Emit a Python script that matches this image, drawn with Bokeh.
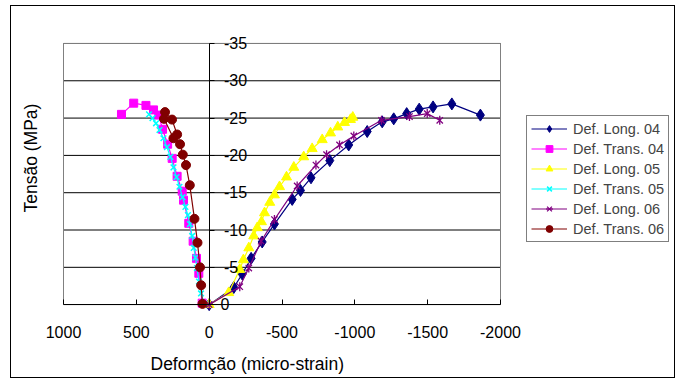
from math import pi
from bokeh.plotting import figure
from bokeh.models import (Range1d, LinearAxis, FixedTicker, Legend, LegendItem,
                          Title)
from bokeh.embed import file_html
from bokeh.resources import INLINE

# ---- data (deformação in micro-strain, tensão in MPa) ----
long04_x = [0, -169, -227, -288, -364, -448, -570, -627, -699, -828, -958,
            -1085, -1188, -1267, -1356, -1442, -1537, -1666, -1862]
long04_y = [0, -2.3, -4.1, -6.2, -8.4, -10.8, -14.1, -15.3, -17.0, -19.3,
            -21.4, -23.2, -24.5, -24.9, -25.6, -26.2, -26.5, -26.9, -25.4]

trans04_x = [48, 71, 87, 110, 140, 176, 185, 220, 254, 285, 320, 346, 382,
             434, 518, 602]
trans04_y = [-0.2, -4.2, -6.2, -8.5, -10.9, -14.0, -15.2, -17.2, -19.6,
             -21.5, -23.5, -25.4, -26.1, -26.7, -27.0, -25.5]

long05_x = [0, -134, -210, -235, -272, -306, -330, -359, -380, -416, -448,
            -483, -531, -581, -649, -707, -776, -833, -883, -929, -970, -986]
long05_y = [0, -1.6, -4.7, -6.0, -7.6, -9.2, -10.3, -11.1, -12.3, -13.7,
            -14.7, -15.8, -17.1, -18.4, -19.8, -20.9, -22.1, -23.0, -23.8,
            -24.4, -24.8, -25.1]

trans05_x = [32, 56, 70, 84, 94, 106, 117, 132, 146, 163, 183, 204, 224, 245,
             266, 290, 314, 341, 365, 389, 413]
trans05_y = [-0.1, -1.5, -3.1, -4.9, -6.3, -7.6, -9.2, -10.8, -12.0, -13.1,
             -14.4, -15.8, -17.1, -18.4, -19.8, -21.1, -22.3, -23.4, -24.3,
             -25.0, -25.5]

long06_x = [0, -210, -272, -357, -448, -604, -733, -806, -895, -993, -1183,
            -1375, -1497, -1583]
long06_y = [0, -2.4, -4.9, -8.5, -11.4, -15.9, -18.7, -20.1, -21.4, -22.6,
            -24.7, -25.2, -25.6, -24.7]

trans06_x = [46, 55, 63, 80, 101, 133, 159, 181, 200, 245, 310, 303, 255, 220]
trans06_y = [-0.1, -2.6, -5.0, -8.3, -11.5, -16.0, -18.7, -20.1, -21.5,
             -22.3, -24.9, -25.8, -24.8, -22.8]

series_names = ["Def. Long. 04", "Def. Trans. 04", "Def. Long. 05",
                "Def. Trans. 05", "Def. Long. 06", "Def. Trans. 06"]
x_ticks = [1000, 500, 0, -500, -1000, -1500, -2000]
y_ticks = [0, -5, -10, -15, -20, -25, -30, -35]
y_tick_labels = ["0\u2007\u2007", "-5\u2007", "-10", "-15", "-20", "-25",
                 "-30", "-35"]

x_title = "Deformção (micro-strain)"
y_title = "Tensão (MPa)"

FONT = "Liberation Sans"

# ---- layout constants (pixels) ----
W, H = 665, 373                    # canvas (inside the 1px CSS border)
B_LEFT, B_RIGHT, B_TOP, B_BOTTOM = 33, 4, 28, 33
PLOT_W_PX, PLOT_H_PX = 437, 262    # visible plot-area box
PAD_L, PAD_T, PAD_B = 19, 9, 41    # frame extends beyond the plot box
frame_w = W - B_LEFT - B_RIGHT
x_lo, x_hi = x_ticks[0], x_ticks[-1]
ux = (x_lo - x_hi) / PLOT_W_PX
uy = (y_ticks[0] - y_ticks[-1]) / PLOT_H_PX
x_start = x_lo + PAD_L * ux
x_end = x_start - frame_w * ux
y_start = y_ticks[0] + PAD_B * uy
y_end = y_ticks[-1] - PAD_T * uy

p = figure(width=W, height=H, output_backend="svg", toolbar_location=None,
           x_range=Range1d(x_start, x_end), y_range=Range1d(y_start, y_end),
           x_axis_location=None, y_axis_location=None,
           min_border_left=B_LEFT, min_border_right=B_RIGHT,
           min_border_top=B_TOP, min_border_bottom=B_BOTTOM)
p.margin = (5, 0, 0, 10)
p.styles = {"border": "1px solid black"}
p.outline_line_color = None
p.background_fill_color = "white"
p.border_fill_color = "white"
for g in p.grid:
    g.visible = False

# horizontal gridlines and plot-area box
n = len(y_ticks) - 1
p.segment(x0=[x_lo] * n, x1=[x_hi] * n, y0=y_ticks[1:], y1=y_ticks[1:],
          line_color="black", line_width=1)
p.quad(left=[x_lo], right=[x_hi], bottom=[y_ticks[0]], top=[y_ticks[-1]],
       fill_color=None, line_color="#808080", line_width=1)

def style_font(ax):
    ax.major_label_text_font = FONT
    ax.major_label_text_font_size = "16px"
    ax.major_label_text_color = "black"

# x axis at y = 0 (ticks up, labels below)
xaxis = LinearAxis(ticker=FixedTicker(ticks=x_ticks), fixed_location=0,
                   bounds=(x_hi, x_lo))
xaxis.major_tick_out = 5
xaxis.major_tick_in = 0
xaxis.minor_tick_out = 0
xaxis.minor_tick_in = 0
xaxis.minor_tick_line_color = None
xaxis.axis_line_color = "black"
xaxis.major_tick_line_color = "black"
xaxis.major_label_standoff = -38
xaxis.major_label_overrides = {t: str(t) for t in x_ticks}
style_font(xaxis)
p.add_layout(xaxis, "above")

# axis titles
xt = Title(text=x_title, align="left", offset=106, standoff=12,
           text_font=FONT, text_font_size="17.5px", text_font_style="normal",
           text_color="black")
p.add_layout(xt, "below")

yt = Title(text=y_title, align="left", offset=133, standoff=8,
           text_font=FONT, text_font_size="17.5px", text_font_style="normal",
           text_color="black")
p.add_layout(yt, "left")

# y axis at x = 0 (labels to its right)
yaxis = LinearAxis(ticker=FixedTicker(ticks=y_ticks), fixed_location=0,
                   bounds=(y_ticks[-1], y_ticks[0]))
yaxis.major_tick_in = 5
yaxis.major_tick_out = 0
yaxis.minor_tick_out = 0
yaxis.minor_tick_in = 0
yaxis.minor_tick_line_color = None
yaxis.axis_line_color = "black"
yaxis.major_tick_line_color = "black"
yaxis.major_label_standoff = -38
yaxis.major_label_overrides = dict(zip(y_ticks, y_tick_labels))
style_font(yaxis)
p.add_layout(yaxis, "left")

items = []

def add_series(name, xs, ys, color, marker, size):
    r_line = p.line(xs, ys, line_color=color, line_width=1.2)
    rs = [r_line]
    if marker == "star6":
        rs.append(p.scatter(xs, ys, marker="x", size=size, line_color=color,
                            line_width=1.3))
        rs.append(p.scatter(xs, ys, marker="dash", size=size, angle=pi / 2,
                            line_color=color, line_width=1.3))
    elif marker == "x":
        rs.append(p.scatter(xs, ys, marker="x", size=size, line_color=color,
                            line_width=1.5))
    else:
        rs.append(p.scatter(xs, ys, marker=marker, size=size, line_color=color,
                            fill_color=color))
    items.append(LegendItem(label=name, renderers=rs))

add_series(series_names[0], long04_x, long04_y, "#000080", "diamond", 12)
add_series(series_names[1], trans04_x, trans04_y, "#FF00FF", "square", 8)
add_series(series_names[2], long05_x, long05_y, "#FFFF00", "triangle", 10)
add_series(series_names[3], trans05_x, trans05_y, "#00FFFF", "x", 8)
add_series(series_names[4], long06_x, long06_y, "#800080", "star6", 9)
add_series(series_names[5], trans06_x, trans06_y, "#800000", "circle", 9)

legend = Legend(items=items, location=(482, 103))
legend.border_line_color = "black"
legend.border_line_width = 1
legend.background_fill_color = "white"
legend.background_fill_alpha = 1
legend.label_text_font = FONT
legend.label_text_font_size = "14.5px"
legend.glyph_width = 36
legend.glyph_height = 17
legend.label_height = 17
legend.label_standoff = 6
legend.spacing = 3
legend.padding = 4
legend.margin = 0
p.add_layout(legend, "center")

open("out.html", "w").write(file_html(p, INLINE))
